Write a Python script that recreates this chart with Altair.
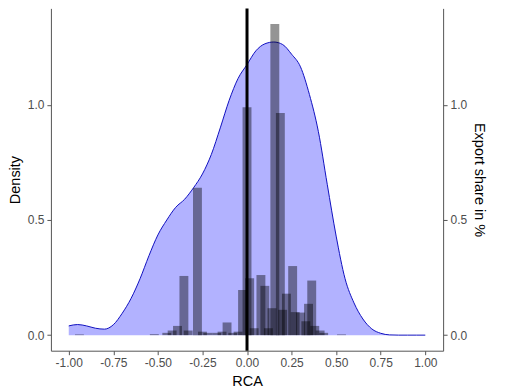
import altair as alt
import pandas as pd

# Density curve (RCA vs density)
dens_x = [-1.00, -0.95, -0.90, -0.85, -0.80, -0.75, -0.70, -0.65, -0.60, -0.55,
          -0.50, -0.45, -0.40, -0.35, -0.30, -0.25, -0.20, -0.15, -0.10, -0.05,
          0.00, 0.05, 0.10, 0.15, 0.20, 0.25, 0.30, 0.35, 0.40, 0.45,
          0.50, 0.55, 0.60, 0.65, 0.70, 0.75, 0.80, 0.85, 0.90, 0.95, 1.00]
dens_y = [0.040, 0.046, 0.040, 0.030, 0.026, 0.045, 0.095, 0.160, 0.245, 0.345,
          0.435, 0.500, 0.555, 0.590, 0.640, 0.700, 0.785, 0.900, 1.020, 1.115,
          1.175, 1.235, 1.265, 1.273, 1.262, 1.220, 1.165, 1.045, 0.885, 0.655,
          0.430, 0.245, 0.140, 0.070, 0.027, 0.008, 0.001, 0.0, 0.0, 0.0, 0.0]

# Export share bars (RCA position, share in %)
bar_x = [-0.94, -0.52, -0.45, -0.42, -0.39, -0.354, -0.33, -0.278, -0.25, -0.22,
         -0.17, -0.14, -0.112, -0.08, -0.05, -0.025, 0.0, 0.015, 0.04, 0.078,
         0.10, 0.12, 0.14, 0.156, 0.187, 0.20, 0.221, 0.256, 0.27, 0.30,
         0.33, 0.345, 0.363, 0.38, 0.41, 0.43, 0.53]
bar_h = [0.003, 0.004, 0.01, 0.02, 0.04, 0.257, 0.02, 0.64, 0.015, 0.01,
         0.01, 0.015, 0.055, 0.01, 0.015, 0.196, 0.99, 0.247, 0.03, 0.261,
         0.214, 0.03, 0.117, 1.351, 0.965, 0.11, 0.18, 0.30, 0.10, 0.098,
         0.06, 0.136, 0.237, 0.04, 0.02, 0.01, 0.003]
bar_width = 0.05

x_ticks = [-1.0, -0.75, -0.5, -0.25, 0.0, 0.25, 0.5, 0.75, 1.0]
y_ticks = [0.0, 0.5, 1.0]

dens_df = pd.DataFrame({"x": dens_x, "y": dens_y})
bar_df = pd.DataFrame({"x": bar_x, "h": bar_h})
bar_df["x0"] = bar_df["x"] - bar_width / 2
bar_df["x1"] = bar_df["x"] + bar_width / 2
bar_df["base"] = 0.0

xdom = [-1.1, 1.1]
ydom = [-0.0676, 1.419]

xscale = alt.Scale(domain=xdom, nice=False, zero=False)
yscale = alt.Scale(domain=ydom, nice=False, zero=False)

x_axis = alt.Axis(values=x_ticks, title="RCA", labelColor="#4d4d4d", titleColor="black",
                  labelExpr="replace(format(datum.value, '.2f'), '\u2212', '-')")

area = alt.Chart(dens_df).mark_area(
    color="#0000ff", fillOpacity=0.3, interpolate="monotone",
    line={"color": "#1010c0", "strokeWidth": 1}
).encode(
    x=alt.X("x:Q", scale=xscale, axis=x_axis),
    y=alt.Y("y:Q", scale=yscale,
            axis=alt.Axis(values=y_ticks, format=".1f", title="Density", orient="left",
                          labelColor="#4d4d4d", titleColor="black")),
)

bars = alt.Chart(bar_df).mark_rect(color="black", opacity=0.42).encode(
    x=alt.X("x0:Q", scale=xscale, axis=x_axis),
    x2="x1:Q",
    y=alt.Y("h:Q", scale=yscale,
            axis=alt.Axis(values=y_ticks, format=".1f", title="Export share in %", orient="right",
                          labelColor="#4d4d4d", titleColor="black")),
    y2="base:Q",
)

vline = alt.Chart(pd.DataFrame({"x": [0.0]})).mark_rule(color="black", strokeWidth=3).encode(
    x=alt.X("x:Q", scale=xscale, axis=x_axis)
)

chart = alt.layer(area, bars, vline).resolve_scale(y="independent").properties(
    width=393, height=343,
    autosize=alt.AutoSizeParams(type="none"),
    padding={"left": 43, "top": 0, "right": 58, "bottom": 40},
).configure_view(stroke=None).configure_axis(
    grid=False,
    domainColor="#555555", domainWidth=1,
    tickColor="#555555", tickSize=4, tickWidth=1,
    labelColor="#4d4d4d", labelFont="Liberation Sans", labelFontSize=12, labelPadding=3,
    titleColor="black", titleFont="Liberation Sans", titleFontSize=14.5,
    titleFontWeight="normal", titlePadding=5,
).configure_axisBottom(titlePadding=6)

chart.save("out.html", embed_options={"renderer": "svg", "actions": False})
